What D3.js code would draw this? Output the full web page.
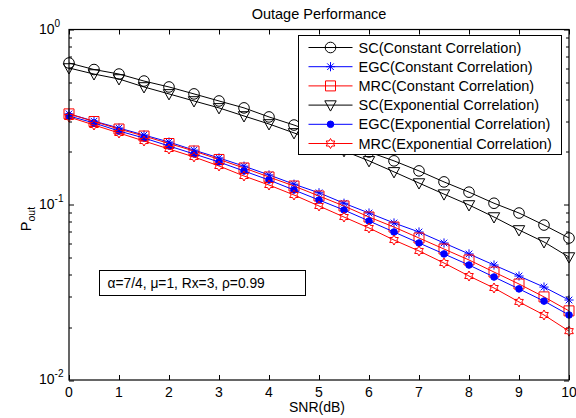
<!DOCTYPE html>
<html>
<head>
<meta charset="utf-8">
<script src="https://cdn.jsdelivr.net/npm/d3@7"></script>
<style>
  body { margin: 0; background: #fff; }
  text { font-family: "Liberation Sans", Arial, sans-serif; fill: #000; }
</style>
</head>
<body>
<div class="canvas"></div>
<script>
// data
const snr = [0, 0.5, 1, 1.5, 2, 2.5, 3, 3.5, 4, 4.5, 5, 5.5, 6, 6.5, 7, 7.5, 8, 8.5, 9, 9.5, 10];
const scConst = [0.644, 0.591, 0.557, 0.508, 0.470, 0.429, 0.391, 0.357, 0.317, 0.285, 0.253, 0.225, 0.200, 0.178, 0.156, 0.135, 0.118, 0.102, 0.0897, 0.0766, 0.0646];
const egcConst = [0.330, 0.300, 0.274, 0.250, 0.228, 0.205, 0.185, 0.166, 0.148, 0.131, 0.117, 0.102, 0.0897, 0.0787, 0.0699, 0.0605, 0.0524, 0.0453, 0.0392, 0.0339, 0.0286];
const mrcConst = [0.330, 0.2985, 0.2705, 0.2467, 0.2236, 0.2026, 0.1813, 0.1621, 0.1440, 0.1279, 0.1122, 0.0984, 0.0851, 0.0746, 0.0646, 0.0559, 0.0484, 0.0413, 0.0353, 0.0298, 0.0248];
const scExp = [0.603, 0.557, 0.522, 0.470, 0.429, 0.391, 0.357, 0.321, 0.289, 0.257, 0.228, 0.203, 0.178, 0.154, 0.133, 0.115, 0.0997, 0.0851, 0.0718, 0.0613, 0.0503];
const egcExp = [0.321, 0.293, 0.2635, 0.2403, 0.2164, 0.1949, 0.1754, 0.1558, 0.1384, 0.1214, 0.1064, 0.0933, 0.0808, 0.0699, 0.0605, 0.0524, 0.0453, 0.0387, 0.0331, 0.0282, 0.0235];
const mrcExp = [0.3167, 0.2851, 0.2567, 0.2310, 0.2080, 0.1874, 0.1664, 0.1459, 0.1296, 0.1137, 0.0984, 0.0851, 0.0737, 0.0629, 0.0545, 0.0465, 0.0392, 0.0335, 0.0279, 0.0235, 0.0190];

const seriesNames = ['SC(Constant Correlation)', 'EGC(Constant Correlation)', 'MRC(Constant Correlation)',
  'SC(Exponential Correlation)', 'EGC(Exponential Correlation)', 'MRC(Exponential Correlation)'];
const xTicks = [0, 1, 2, 3, 4, 5, 6, 7, 8, 9, 10];
const yExps = [0, -1, -2];

const series = [
  { name: seriesNames[0], values: scConst, color: '#000', marker: 'circle' },
  { name: seriesNames[1], values: egcConst, color: '#0000ff', marker: 'asterisk' },
  { name: seriesNames[2], values: mrcConst, color: '#ff0000', marker: 'square' },
  { name: seriesNames[3], values: scExp, color: '#000', marker: 'triangle' },
  { name: seriesNames[4], values: egcExp, color: '#0000ff', marker: 'dot' },
  { name: seriesNames[5], values: mrcExp, color: '#ff0000', marker: 'hexagram' }
];

const W = 576, H = 418;
const margin = { top: 29.5, right: 7, bottom: 38, left: 69 };
const graphWidth = W - margin.left - margin.right;
const graphHeight = H - margin.top - margin.bottom;

const svg = d3.select('.canvas')
  .append('svg')
  .attr('width', W)
  .attr('height', H);

const graph = svg.append('g')
  .attr('transform', `translate(${margin.left}, ${margin.top})`);

const x = d3.scaleLinear().domain([0, 10]).range([0, graphWidth]);
const y = d3.scaleLog().domain([0.01, 1]).range([graphHeight, 0]);

// ticks (inside, MATLAB style)
const tk = graph.append('g').attr('stroke', '#000').attr('stroke-width', 1);
xTicks.forEach(t => {
  const px = Math.round(x(t)) + 0.5;
  tk.append('line').attr('x1', px).attr('x2', px).attr('y1', graphHeight).attr('y2', graphHeight - 5);
  tk.append('line').attr('x1', px).attr('x2', px).attr('y1', 0).attr('y2', 5);
});
const minor = [];
[0.01, 0.1].forEach(base => { for (let k = 2; k <= 9; k++) minor.push(base * k); });
minor.forEach(v => {
  const py = Math.round(y(v)) + 0.5;
  tk.append('line').attr('x1', 0).attr('x2', 3).attr('y1', py).attr('y2', py);
  tk.append('line').attr('x1', graphWidth).attr('x2', graphWidth - 3).attr('y1', py).attr('y2', py);
});
yExps.forEach(e => {
  const py = Math.round(y(Math.pow(10, e))) + 0.5;
  tk.append('line').attr('x1', 0).attr('x2', 5).attr('y1', py).attr('y2', py);
  tk.append('line').attr('x1', graphWidth).attr('x2', graphWidth - 5).attr('y1', py).attr('y2', py);
});

// tick labels
graph.selectAll('.xlab')
  .data(xTicks)
  .enter().append('text')
  .attr('x', d => x(d))
  .attr('y', graphHeight + 17)
  .attr('text-anchor', 'middle')
  .attr('font-size', 14)
  .text(d => d);

const ylabs = graph.selectAll('.ylab')
  .data(yExps)
  .enter().append('text')
  .attr('x', -30)
  .attr('y', d => y(Math.pow(10, d)) + 4)
  .attr('font-size', 14);
ylabs.append('tspan').text('10');
ylabs.append('tspan').attr('dy', -7).attr('font-size', 10).text(d => d);

// lines and markers
const line = d3.line()
  .x((d, i) => x(snr[i]))
  .y(d => y(d));

const markerPath = (type, s) => {
  if (type === 'square') return `M${-s},${-s}H${s}V${s}H${-s}Z`;
  if (type === 'triangle') return `M${-s},${-s * 0.75}H${s}L0,${s * 1.05}Z`;
  if (type === 'asterisk') {
    const a = s * 0.72;
    return `M${-s},0H${s}M0,${-s}V${s}M${-a},${-a}L${a},${a}M${-a},${a}L${a},${-a}`;
  }
  if (type === 'hexagram') {
    const pts = [];
    for (let k = 0; k < 12; k++) {
      const ang = -Math.PI / 2 + k * Math.PI / 6;
      const r = k % 2 === 0 ? s : s * 0.58;
      pts.push([r * Math.cos(ang), r * Math.sin(ang)]);
    }
    return 'M' + pts.map(p => p[0].toFixed(2) + ',' + p[1].toFixed(2)).join('L') + 'Z';
  }
  return '';
};

const drawMarker = (g, type, color, cx, cy) => {
  if (type === 'circle') {
    g.append('circle').attr('cx', cx).attr('cy', cy).attr('r', 5.3)
      .attr('fill', 'none').attr('stroke', color);
  } else if (type === 'dot') {
    g.append('circle').attr('cx', cx).attr('cy', cy).attr('r', 3.3)
      .attr('fill', color).attr('stroke', color);
  } else {
    const size = { square: 5, triangle: 5.7, asterisk: 4.6, hexagram: 5 }[type];
    g.append('path').attr('d', markerPath(type, size))
      .attr('transform', `translate(${cx},${cy})`)
      .attr('fill', 'none').attr('stroke', color);
  }
};

series.forEach(s => {
  const g = graph.append('g');
  g.append('path')
    .attr('d', line(s.values))
    .attr('fill', 'none')
    .attr('stroke', s.color)
    .attr('stroke-width', 1);
  s.values.forEach((v, i) => drawMarker(g, s.marker, s.color, x(snr[i]), y(v)));
});

// axes box
graph.append('rect')
  .attr('x', 0).attr('y', 0)
  .attr('width', graphWidth).attr('height', graphHeight)
  .attr('fill', 'none').attr('stroke', '#000').attr('stroke-width', 1.2);

// legend
const lg = svg.append('g').attr('transform', 'translate(298.5, 35.5)');
lg.append('rect').attr('width', 263).attr('height', 119)
  .attr('fill', '#fff').attr('stroke', '#000');
series.forEach((s, i) => {
  const ly = 12 + i * 19.2;
  lg.append('line').attr('x1', 10).attr('x2', 54).attr('y1', ly).attr('y2', ly)
    .attr('stroke', s.color);
  drawMarker(lg, s.marker, s.color, 32, ly);
  lg.append('text').attr('x', 60).attr('y', ly + 5)
    .attr('font-size', 14.5).text(s.name);
});

// annotation box
const ann = svg.append('g').attr('transform', 'translate(99.5, 270.5)');
ann.append('rect').attr('width', 206).attr('height', 25)
  .attr('fill', '#fff').attr('stroke', '#000');
ann.append('text').attr('x', 8).attr('y', 17.5).attr('font-size', 13.8)
  .text('\u03b1=7/4, \u03bc=1, Rx=3, \u03c1=0.99');

// titles
svg.append('text')
  .attr('x', margin.left + graphWidth / 2)
  .attr('y', 19)
  .attr('text-anchor', 'middle')
  .attr('font-size', 14.5)
  .text('Outage Performance');

svg.append('text')
  .attr('x', 317)
  .attr('y', 412)
  .attr('text-anchor', 'middle')
  .attr('font-size', 14)
  .text('SNR(dB)');

const yl = svg.append('text')
  .attr('transform', 'translate(31, 219) rotate(-90)')
  .attr('text-anchor', 'middle')
  .attr('font-size', 14.5);
yl.append('tspan').text('P');
yl.append('tspan').attr('dy', 4).attr('font-size', 10.5).text('out');
</script>
</body>
</html>
